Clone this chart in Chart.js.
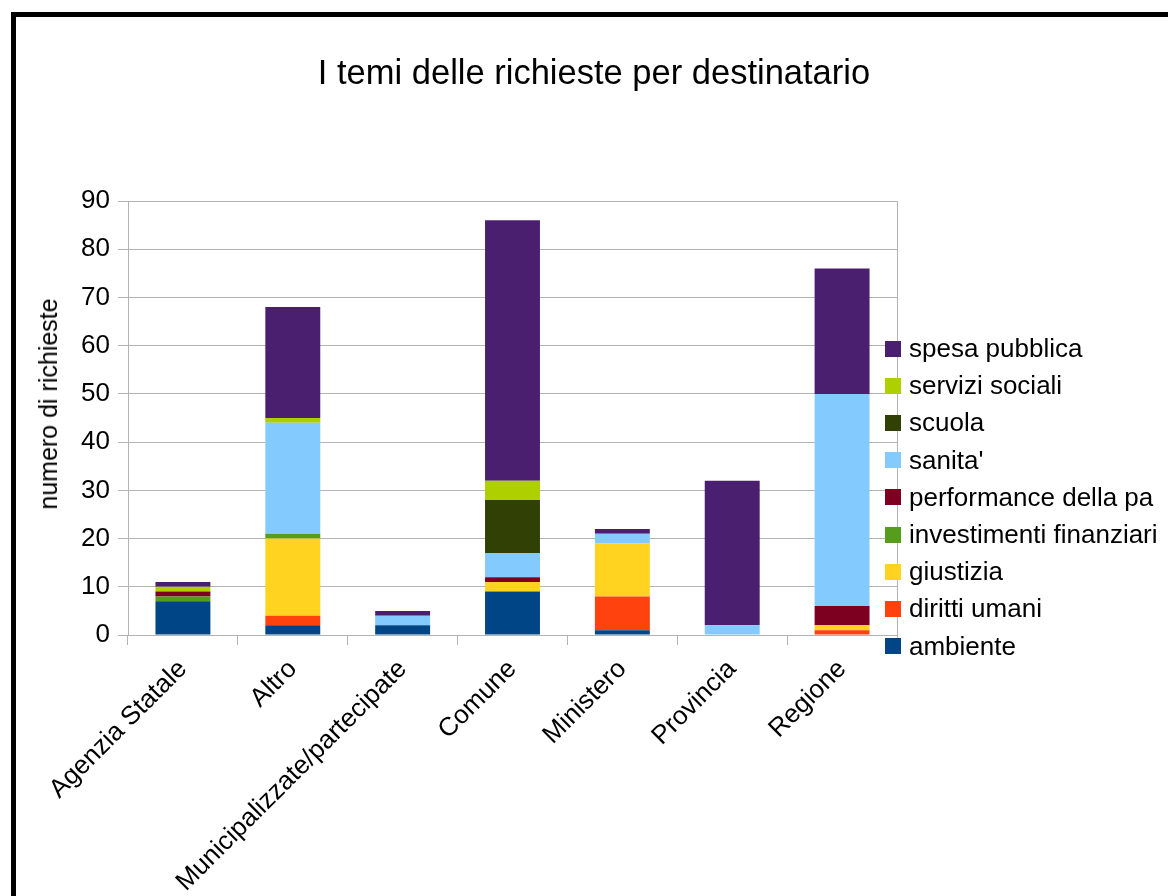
<!DOCTYPE html>
<html lang="it">
<head>
<meta charset="utf-8">
<title>I temi delle richieste per destinatario</title>
<script src="https://cdn.jsdelivr.net/npm/chart.js@4/dist/chart.umd.min.js"></script>
<style>
    html, body { margin: 0; padding: 0; background: #fff; overflow: hidden; }
    body { width: 1168px; height: 896px; position: relative; font-family: "Liberation Sans", Arial, sans-serif; color: #000; }
    #frame {
        position: absolute; left: 11px; top: 12px; width: 1400px; height: 1100px;
        border-left: 5px solid #000; border-top: 5px solid #000;
    }
    #chartWrap { position: absolute; left: 0; top: 0; width: 1168px; height: 896px; }
    #title {
        position: absolute; left: 294px; width: 600px; top: 52px; text-align: center;
        font-size: 34.5px; line-height: 40px; white-space: nowrap;
    }
    #yTitle {
        position: absolute; left: 48px; top: 404px; font-size: 25px; line-height: 28px;
        white-space: nowrap; transform: translate(-50%, -50%) rotate(-90deg);
    }
    #legend {
        position: absolute; left: 885px; top: 330px; margin: 0; padding: 0; list-style: none;
        font-size: 26px;
    }
    #legend li { height: 37.2px; line-height: 37.2px; white-space: nowrap; display: flex; align-items: center; }
    #legend .sw { width: 16px; height: 16px; margin-right: 8px; flex: none; }
</style>
</head>
<body>
<div id="frame"></div>
<div id="chartWrap"><canvas id="temiChart" width="1168" height="896"></canvas></div>
<div id="title">I temi delle richieste per destinatario</div>
<div id="yTitle">numero di richieste</div>
<ul id="legend"></ul>
<script>
// Destinatari (categorie sull'asse x)
const destinatari = ['Agenzia Statale', 'Altro', 'Municipalizzate/partecipate', 'Comune', 'Ministero', 'Provincia', 'Regione'];

// Numero di richieste per tema, nello stesso ordine dei destinatari
const ambiente        = [7, 2, 2, 9, 1, 0, 0];
const dirittiUmani    = [0, 2, 0, 0, 7, 0, 1];
const giustizia       = [0, 16, 0, 2, 11, 0, 1];
const investimenti    = [1, 1, 0, 0, 0, 0, 0];
const performancePa   = [1, 0, 0, 1, 0, 0, 4];
const sanita          = [0, 23, 2, 5, 2, 2, 44];
const scuola          = [0, 0, 0, 11, 0, 0, 0];
const serviziSociali  = [1, 1, 0, 4, 0, 0, 0];
const spesaPubblica   = [1, 23, 1, 54, 1, 30, 26];

const yTicks = [0, 10, 20, 30, 40, 50, 60, 70, 80, 90];

const temi = [
    { label: 'ambiente', data: ambiente, color: '#004586' },
    { label: 'diritti umani', data: dirittiUmani, color: '#ff420e' },
    { label: 'giustizia', data: giustizia, color: '#ffd320' },
    { label: 'investimenti finanziari', data: investimenti, color: '#579d1c' },
    { label: 'performance della pa', data: performancePa, color: '#7e0021' },
    { label: "sanita'", data: sanita, color: '#83caff' },
    { label: 'scuola', data: scuola, color: '#314004' },
    { label: 'servizi sociali', data: serviziSociali, color: '#aecf00' },
    { label: 'spesa pubblica', data: spesaPubblica, color: '#4b1f6f' }
];

const FONT = '"Liberation Sans", Arial, sans-serif';
const GRID = '#b3b3b3';

// Legenda a destra, dal tema in cima alla pila a quello in basso
const legendEl = document.getElementById('legend');
temi.slice().reverse().forEach(t => {
    const li = document.createElement('li');
    li.innerHTML = `<span class="sw" style="background:${t.color}"></span>${t.label}`;
    legendEl.appendChild(li);
});

// Bordo destro dell'area del grafico
const plotBorder = {
    id: 'plotBorder',
    afterDraw(chart) {
        const { ctx, chartArea } = chart;
        ctx.save();
        ctx.strokeStyle = GRID;
        ctx.lineWidth = 1;
        ctx.beginPath();
        ctx.moveTo(Math.round(chartArea.right) + 0.5, chartArea.top);
        ctx.lineTo(Math.round(chartArea.right) + 0.5, chartArea.bottom);
        ctx.stroke();
        ctx.restore();
    }
};

new Chart(document.getElementById('temiChart'), {
    type: 'bar',
    data: {
        labels: destinatari,
        datasets: temi.map(t => ({
            label: t.label,
            data: t.data,
            backgroundColor: t.color,
            borderWidth: 0,
            barPercentage: 0.5,
            categoryPercentage: 1.0
        }))
    },
    options: {
        responsive: false,
        animation: false,
        layout: { padding: { left: 0, right: 271, top: 201, bottom: 0 } },
        plugins: {
            legend: { display: false },
            tooltip: { enabled: false }
        },
        scales: {
            x: {
                stacked: true,
                afterFit: scale => { scale.height = 896 - 635; },
                grid: { offset: true, drawOnChartArea: false, drawTicks: true, tickLength: 10, color: GRID },
                border: { color: GRID },
                ticks: {
                    color: '#000',
                    font: { family: FONT, size: 26 },
                    maxRotation: 45,
                    minRotation: 45,
                    padding: 9,
                    autoSkip: false
                }
            },
            y: {
                stacked: true,
                min: 0,
                max: 90,
                afterFit: scale => { scale.width = 128; },
                afterBuildTicks: scale => { scale.ticks = yTicks.map(v => ({ value: v })); },
                grid: { color: GRID, tickLength: 10 },
                border: { color: GRID },
                ticks: { color: '#000', font: { family: FONT, size: 26 }, padding: 8 }
            }
        }
    },
    plugins: [plotBorder]
});
</script>
</body>
</html>
